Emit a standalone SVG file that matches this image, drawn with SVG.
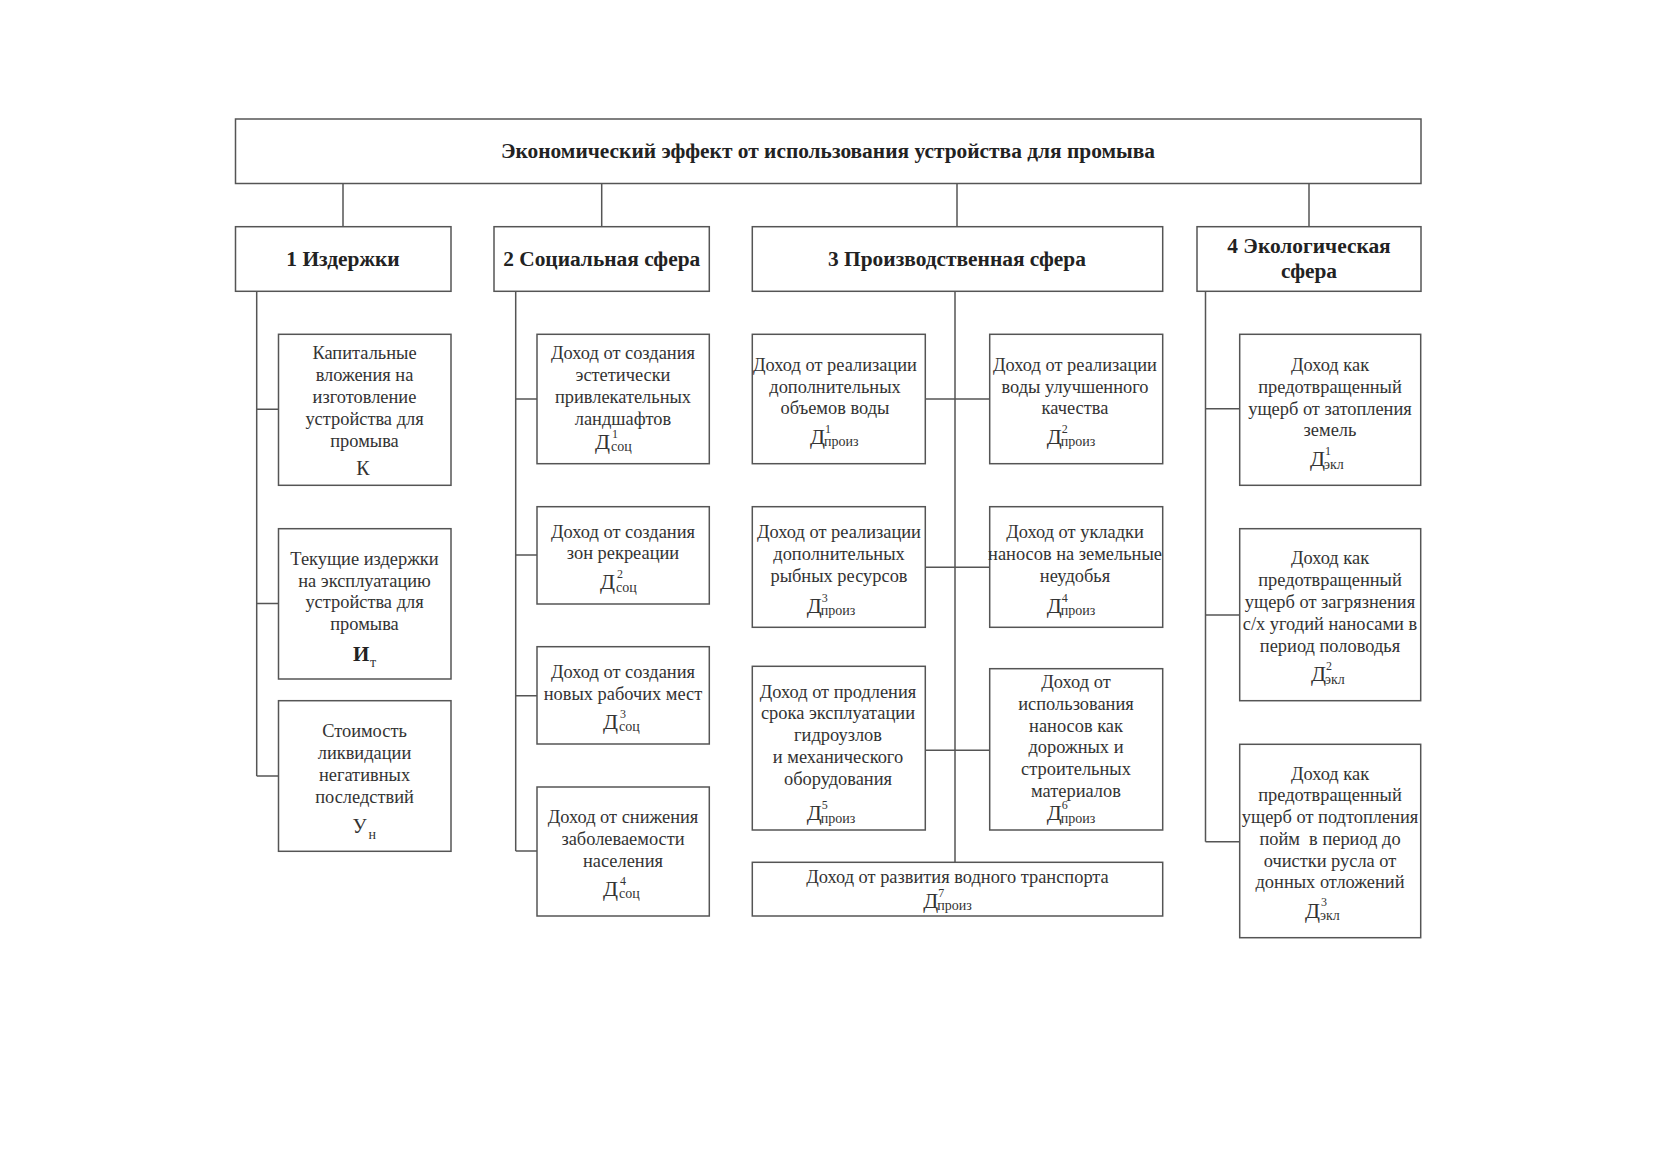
<svg xmlns="http://www.w3.org/2000/svg" width="1664" height="1175" viewBox="0 0 1664 1175">
<style>
.box{fill:#fff;stroke:#555;stroke-width:1.5}
.ln{stroke:#555;stroke-width:1.5;fill:none}
text{font-family:"Liberation Serif","Times New Roman",serif;fill:#333}
.t{font-size:18.4px;text-anchor:middle}
.h{font-size:21.4px;font-weight:bold;text-anchor:middle;fill:#222}
.d{font-size:22px}
.sup{font-size:12px}
.sub{font-size:14px}
</style>
<rect width="1664" height="1175" fill="#fff"/>
<g id="connectors">
<path class="ln" d="M343,183.5V226.7M601.7,183.5V226.7M957,183.5V226.7M1309,183.5V226.7"/>
<path class="ln" d="M256.7,291.3V776M256.7,409.3H278.5M256.7,603.5H278.5M256.7,776H278.5"/>
<path class="ln" d="M515.7,291.3V851M515.7,399H537M515.7,555H537M515.7,695.7H537M515.7,851H537"/>
<path class="ln" d="M955,291.3V862.3M925.3,399H989.7M925.3,567.3H989.7M925.3,750.3H989.7"/>
<path class="ln" d="M1205.5,291.3V841.7M1205.5,408.7H1239.7M1205.5,615H1239.7M1205.5,841.7H1239.7"/>
</g>
<g id="top">
<rect class="box" x="235.5" y="119" width="1185.5" height="64.5"/>
<text class="h" x="828" y="158">Экономический эффект от использования устройства для промыва</text>
</g>
<g id="h1">
<rect class="box" x="235.5" y="226.7" width="215.5" height="64.6"/>
<text class="h" x="343" y="265.5">1 Издержки</text>
</g>
<g id="h2">
<rect class="box" x="494" y="226.7" width="215.3" height="64.6"/>
<text class="h" x="601.7" y="265.5">2 Социальная сфера</text>
</g>
<g id="h3">
<rect class="box" x="752.3" y="226.7" width="410.4" height="64.6"/>
<text class="h" x="957" y="265.5">3 Производственная сфера</text>
</g>
<g id="h4">
<rect class="box" x="1197" y="226.7" width="224" height="64.6"/>
<text class="h" x="1309" y="252.5">4 Экологическая</text>
<text class="h" x="1309" y="278">сфера</text>
</g>

<g id="k">
<rect class="box" x="278.5" y="334.3" width="172.5" height="151"/>
<text class="t" x="364.5" y="359">Капитальные</text>
<text class="t" x="364.5" y="381">вложения на</text>
<text class="t" x="364.5" y="403">изготовление</text>
<text class="t" x="364.5" y="425">устройства для</text>
<text class="t" x="364.5" y="446.5">промыва</text>
<text class="t" x="363" y="474.5" style="font-size:20px">К</text>
</g>
<g id="it">
<rect class="box" x="278.5" y="528.7" width="172.5" height="150.3"/>
<text class="t" x="364.5" y="565">Текущие издержки</text>
<text class="t" x="364.5" y="586.5">на эксплуатацию</text>
<text class="t" x="364.5" y="608">устройства для</text>
<text class="t" x="364.5" y="629.5">промыва</text>
<text x="353" y="661" style="font-size:21px;font-weight:bold;fill:#222">И</text>
<text x="370" y="667" class="sub">т</text>
</g>
<g id="un">
<rect class="box" x="278.5" y="700.7" width="172.5" height="150.6"/>
<text class="t" x="364.5" y="736.5">Стоимость</text>
<text class="t" x="364.5" y="758.5">ликвидации</text>
<text class="t" x="364.5" y="780.5">негативных</text>
<text class="t" x="364.5" y="802.5">последствий</text>
<text x="352.5" y="833" style="font-size:20px">У</text>
<text x="368.5" y="838.5" class="sub">н</text>
</g>

<g id="s1">
<rect class="box" x="537" y="334.3" width="172.3" height="129.4"/>
<text class="t" x="623" y="359">Доход от создания</text>
<text class="t" x="623" y="381">эстетически</text>
<text class="t" x="623" y="403">привлекательных</text>
<text class="t" x="623" y="425">ландшафтов</text>
<text class="d" x="595" y="448.5">Д</text>
<text class="sup" x="612" y="437.5">1</text>
<text class="sub" x="611" y="451">соц</text>
</g>
<g id="s2">
<rect class="box" x="537" y="506.7" width="172.3" height="97.3"/>
<text class="t" x="623" y="537.5">Доход от создания</text>
<text class="t" x="623" y="559">зон рекреации</text>
<text class="d" x="600" y="589">Д</text>
<text class="sup" x="617" y="578">2</text>
<text class="sub" x="616" y="591.5">соц</text>
</g>
<g id="s3">
<rect class="box" x="537" y="646.7" width="172.3" height="97.3"/>
<text class="t" x="623" y="678">Доход от создания</text>
<text class="t" x="623" y="700">новых рабочих мест</text>
<text class="d" x="603" y="728.5">Д</text>
<text class="sup" x="620" y="717.5">3</text>
<text class="sub" x="619" y="731">соц</text>
</g>
<g id="s4">
<rect class="box" x="537" y="787" width="172.3" height="129"/>
<text class="t" x="623" y="823">Доход от снижения</text>
<text class="t" x="623" y="845">заболеваемости</text>
<text class="t" x="623" y="866.5">населения</text>
<text class="d" x="603" y="895.5">Д</text>
<text class="sup" x="620" y="884.5">4</text>
<text class="sub" x="619" y="898">соц</text>
</g>

<g id="p1">
<rect class="box" x="752.3" y="334.3" width="173" height="129.4"/>
<text class="t" x="835" y="370.5">Доход от реализации</text>
<text class="t" x="835" y="392.5">дополнительных</text>
<text class="t" x="835" y="414">объемов воды</text>
<text class="d" x="810" y="443.5">Д</text>
<text class="sup" x="825" y="432.5">1</text>
<text class="sub" x="824" y="446">произ</text>
</g>
<g id="p2">
<rect class="box" x="989.7" y="334.3" width="173" height="129.4"/>
<text class="t" x="1075" y="370.5">Доход от реализации</text>
<text class="t" x="1075" y="392.5">воды улучшенного</text>
<text class="t" x="1075" y="414">качества</text>
<text class="d" x="1046.7" y="443.5">Д</text>
<text class="sup" x="1061.7" y="432.5">2</text>
<text class="sub" x="1060.7" y="446">произ</text>
</g>
<g id="p3">
<rect class="box" x="752.3" y="506.7" width="173" height="120.6"/>
<text class="t" x="839" y="538">Доход от реализации</text>
<text class="t" x="839" y="560">дополнительных</text>
<text class="t" x="839" y="582">рыбных ресурсов</text>
<text class="d" x="806.7" y="612.5">Д</text>
<text class="sup" x="821.7" y="601.5">3</text>
<text class="sub" x="820.7" y="615">произ</text>
</g>
<g id="p4">
<rect class="box" x="989.7" y="506.7" width="173" height="120.6"/>
<text class="t" x="1075" y="538">Доход от укладки</text>
<text class="t" x="1075" y="560">наносов на земельные</text>
<text class="t" x="1075" y="582">неудобья</text>
<text class="d" x="1046.7" y="612.5">Д</text>
<text class="sup" x="1061.7" y="601.5">4</text>
<text class="sub" x="1060.7" y="615">произ</text>
</g>
<g id="p5">
<rect class="box" x="752.3" y="666.3" width="173" height="163.7"/>
<text class="t" x="838" y="697.5">Доход от продления</text>
<text class="t" x="838" y="719">срока эксплуатации</text>
<text class="t" x="838" y="741">гидроузлов</text>
<text class="t" x="838" y="763">и механического</text>
<text class="t" x="838" y="785">оборудования</text>
<text class="d" x="806.7" y="820">Д</text>
<text class="sup" x="821.7" y="809">5</text>
<text class="sub" x="820.7" y="822.5">произ</text>
</g>
<g id="p6">
<rect class="box" x="989.7" y="668.7" width="173" height="161.3"/>
<text class="t" x="1076" y="687.5">Доход от</text>
<text class="t" x="1076" y="709.5">использования</text>
<text class="t" x="1076" y="731.5">наносов как</text>
<text class="t" x="1076" y="753">дорожных и</text>
<text class="t" x="1076" y="775">строительных</text>
<text class="t" x="1076" y="797">материалов</text>
<text class="d" x="1046.7" y="820">Д</text>
<text class="sup" x="1061.7" y="809">6</text>
<text class="sub" x="1060.7" y="822.5">произ</text>
</g>
<g id="p7">
<rect class="box" x="752.3" y="862.3" width="410.4" height="53.7"/>
<text class="t" x="957.5" y="882.5">Доход от развития водного транспорта</text>
<text class="d" x="923.3" y="907.5">Д</text>
<text class="sup" x="938.3" y="896.5">7</text>
<text class="sub" x="937.3" y="910">произ</text>
</g>

<g id="e1">
<rect class="box" x="1239.7" y="334.3" width="181" height="151"/>
<text class="t" x="1330" y="370.5">Доход как</text>
<text class="t" x="1330" y="392.5">предотвращенный</text>
<text class="t" x="1330" y="414.5">ущерб от затопления</text>
<text class="t" x="1330" y="436">земель</text>
<text class="d" x="1310" y="466">Д</text>
<text class="sup" x="1325" y="455">1</text>
<text class="sub" x="1324" y="468.5">экл</text>
</g>
<g id="e2">
<rect class="box" x="1239.7" y="528.7" width="181" height="172"/>
<text class="t" x="1330" y="564">Доход как</text>
<text class="t" x="1330" y="586">предотвращенный</text>
<text class="t" x="1330" y="608">ущерб от загрязнения</text>
<text class="t" x="1330" y="629.5">с/х угодий наносами в</text>
<text class="t" x="1330" y="651.5">период половодья</text>
<text class="d" x="1311" y="681">Д</text>
<text class="sup" x="1326" y="670">2</text>
<text class="sub" x="1325" y="683.5">экл</text>
</g>
<g id="e3">
<rect class="box" x="1239.7" y="744.3" width="181" height="193.4"/>
<text class="t" x="1330" y="779.5">Доход как</text>
<text class="t" x="1330" y="801">предотвращенный</text>
<text class="t" x="1330" y="823">ущерб от подтопления</text>
<text class="t" x="1330" y="845" xml:space="preserve">пойм  в период до</text>
<text class="t" x="1330" y="866.5">очистки русла от</text>
<text class="t" x="1330" y="888">донных отложений</text>
<text class="d" x="1305" y="917.5">Д</text>
<text class="sup" x="1321" y="906">3</text>
<text class="sub" x="1320" y="920">экл</text>
</g>
</svg>
